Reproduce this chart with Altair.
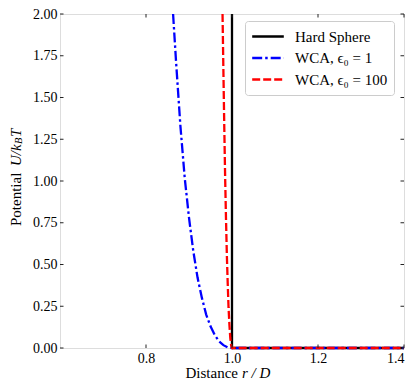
import altair as alt
import pandas as pd

# ---- data ----
SERIES = ["Hard Sphere", "WCA, ϵ₀ = 1", "WCA, ϵ₀ = 100"]
COLORS = ["#000000", "#0000ff", "#ff0000"]
DASHES = [[1, 0], [10, 3, 2.5, 3], [8, 3]]

HS_R = [1.0, 1.0, 1.4]
HS_U = [2.0, 0.0, 0.0]

WCA1_R = [0.863, 0.87, 0.88, 0.89, 0.90, 0.91, 0.92, 0.93, 0.94, 0.95,
          0.96, 0.97, 0.98, 0.99, 1.0, 1.4]
WCA1_U = [2.00, 1.71, 1.33, 1.02, 0.78, 0.58, 0.42, 0.30, 0.20, 0.13,
          0.077, 0.040, 0.017, 0.004, 0.0, 0.0]

WCA100_R = [0.978, 0.980, 0.982, 0.984, 0.986, 0.988, 0.990, 0.992,
            0.994, 0.996, 0.998, 1.0, 1.4]
WCA100_U = [2.00, 1.66, 1.33, 1.03, 0.78, 0.56, 0.39, 0.24,
            0.14, 0.06, 0.015, 0.0, 0.0]

X_TICKS = [0.8, 1.0, 1.2, 1.4]
Y_TICKS = [0.0, 0.25, 0.5, 0.75, 1.0, 1.25, 1.5, 1.75, 2.0]

FONT = "Liberation Serif"
W, H = 344, 334

rows = []
for name, rs, us in zip(SERIES, [HS_R, WCA1_R, WCA100_R], [HS_U, WCA1_U, WCA100_U]):
    for i, (r, u) in enumerate(zip(rs, us)):
        rows.append({"r": r, "U": u, "series": name, "idx": i})
df = pd.DataFrame(rows)

xscale = alt.Scale(domain=[0.6, 1.4], nice=False, zero=False)
yscale = alt.Scale(domain=[0, 2], nice=False, zero=False)

LEG = dict(title=None, orient="none", legendX=185, legendY=7,
           fillColor="white", strokeColor="#cccccc", cornerRadius=3, padding=6,
           labelFont=FONT, labelFontSize=15, labelColor="#000",
           symbolType="stroke", symbolSize=1000, symbolStrokeWidth=2.3,
           labelOffset=10, clipHeight=19, rowPadding=2.5)

lines = alt.Chart(df).mark_line(strokeWidth=2.3, clip=False, strokeCap="butt").encode(
    x=alt.X("r:Q", scale=xscale,
            axis=alt.Axis(values=X_TICKS, format=".1f", title="", labelPadding=3,
                          labelFont=FONT, labelFontSize=14)),
    y=alt.Y("U:Q", scale=yscale,
            axis=alt.Axis(values=Y_TICKS, format=".2f", title="", labelPadding=3,
                          labelFont=FONT, labelFontSize=14)),
    color=alt.Color("series:N", scale=alt.Scale(domain=SERIES, range=COLORS),
                    legend=alt.Legend(**LEG)),
    strokeDash=alt.StrokeDash("series:N", scale=alt.Scale(domain=SERIES, range=DASHES),
                              legend=alt.Legend(**LEG)),
    order="idx:Q",
)

ydf = pd.DataFrame({"U": Y_TICKS})
xdf = pd.DataFrame({"r": X_TICKS})
TK = "#222222"
tl = alt.Chart(ydf).mark_rule(color=TK, strokeWidth=1).encode(
    y=alt.Y("U:Q", scale=yscale), x=alt.value(0), x2=alt.value(3.5))
tr = alt.Chart(ydf).mark_rule(color=TK, strokeWidth=1).encode(
    y=alt.Y("U:Q", scale=yscale), x=alt.value(W - 3.5), x2=alt.value(W))
tb = alt.Chart(xdf).mark_rule(color=TK, strokeWidth=1).encode(
    x=alt.X("r:Q", scale=xscale), y=alt.value(H), y2=alt.value(H - 3.5))
tt = alt.Chart(xdf).mark_rule(color=TK, strokeWidth=1).encode(
    x=alt.X("r:Q", scale=xscale), y=alt.value(0), y2=alt.value(3.5))

one = pd.DataFrame({"a": [0]})

def txt(s, x, y, size=15, style="normal", align="left", angle=0):
    return alt.Chart(one).mark_text(text=s, font=FONT, fontSize=size, fontStyle=style,
                                    align=align, baseline="middle", angle=angle,
                                    color="#000").encode(x=alt.value(x), y=alt.value(y))

titles = [
    txt("Distance", 178, 359, align="right"),
    txt("r / D", 182, 359, style="italic"),
    txt("Potential", -44, 212, angle=270),
    txt("U/k", -44, 152, style="italic", angle=270),
    txt("B", -41, 130, size=10.5, style="italic", angle=270),
    txt("T", -44, 123, style="italic", angle=270),
]

chart = alt.layer(lines, tl, tr, tb, tt, *titles).properties(
    width=W, height=H,
    autosize=alt.AutoSizeParams(type="none"),
    padding={"left": 60, "top": 14, "right": 8, "bottom": 32},
).configure_view(stroke="#222222", strokeWidth=1).configure(
    font=FONT, background="white"
).configure_axis(
    labelFont=FONT, labelFontSize=14, labelColor="#000", ticks=False,
    domain=False, grid=False, title=""
)

chart.save("out.html", embed_options={"renderer": "svg", "actions": False})
